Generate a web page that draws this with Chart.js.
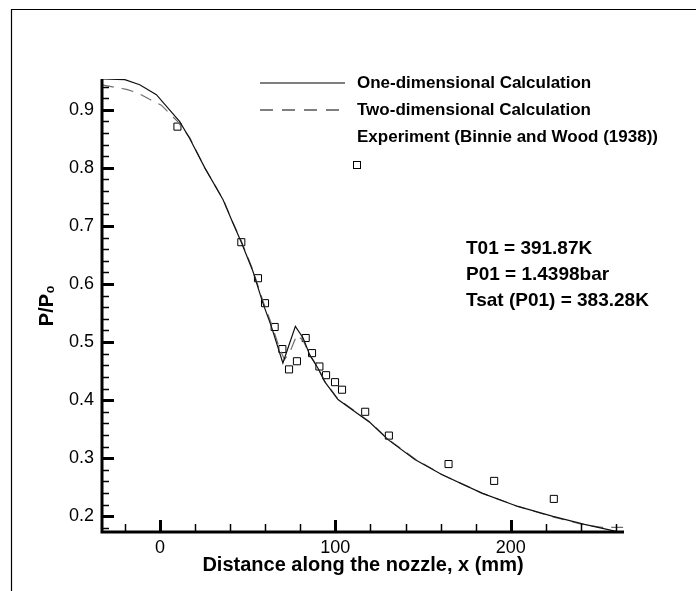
<!DOCTYPE html>
<html><head><meta charset="utf-8">
<script src="https://cdn.jsdelivr.net/npm/chart.js@4/dist/chart.umd.min.js"></script>
<style>html,body{margin:0;padding:0;background:#fff}</style>
</head><body>
<canvas id="c" width="696" height="591" style="display:block;width:696px;height:591px"></canvas>
<script>
// ---- data ----
const oneDimX = [-33, -20, -11.5, -2, 5.5, 11.2, 16.9, 25.6, 36, 41.6, 46.4, 53, 58.7, 63.5, 68.3, 70.1, 77.2, 81.6, 85.4, 90.1, 93.9, 101.5, 119.9, 130, 145.3, 160.6, 183.5, 204, 224, 242, 260];
const oneDimY = [0.953, 0.952, 0.943, 0.926, 0.900, 0.880, 0.851, 0.800, 0.745, 0.705, 0.672, 0.622, 0.567, 0.527, 0.481, 0.464, 0.527, 0.507, 0.478, 0.455, 0.432, 0.401, 0.361, 0.332, 0.298, 0.272, 0.240, 0.217, 0.200, 0.186, 0.174];
const twoDimX = [-33, -19, -12.5, -5.9, 0.8, 10, 17, 25.6, 36, 41.6, 46.4, 53, 58.7, 63.5, 68.3, 71, 74, 78, 81.6, 85.4, 90.1, 93.9, 101.5, 119.9, 130, 145.3, 160.6, 183.5, 204, 224, 242, 252, 264];
const twoDimY = [0.943, 0.935, 0.929, 0.918, 0.908, 0.880, 0.852, 0.800, 0.746, 0.706, 0.674, 0.624, 0.571, 0.532, 0.488, 0.470, 0.482, 0.512, 0.503, 0.478, 0.456, 0.433, 0.402, 0.362, 0.333, 0.299, 0.272, 0.240, 0.217, 0.199, 0.185, 0.181, 0.181];
const expX = [10, 46.4, 55.9, 59.9, 65.4, 69.8, 73.6, 78.1, 83.1, 86.7, 90.9, 94.7, 99.8, 103.8, 117, 130.5, 164.5, 190.5, 224.5];
const expY = [0.871, 0.672, 0.610, 0.567, 0.526, 0.488, 0.453, 0.467, 0.507, 0.481, 0.458, 0.443, 0.431, 0.418, 0.380, 0.339, 0.290, 0.261, 0.230];
const xTicks = [0, 100, 200];
const yTicks = [0.2, 0.3, 0.4, 0.5, 0.6, 0.7, 0.8, 0.9];
const seriesNames = ['One-dimensional Calculation', 'Two-dimensional Calculation', 'Experiment (Binnie and Wood (1938))'];
const noteLines = ['T01 = 391.87K', 'P01 = 1.4398bar', 'Tsat (P01) = 383.28K'];
const xTitle = 'Distance along the nozzle, x (mm)';
const yTitle = 'P/P\u2080';

const FONT = '"Liberation Sans", Arial, sans-serif';
const pts = (xs, ys) => xs.map((x, i) => ({x, y: ys[i]}));

const decorPlugin = {
  id: 'decor',
  beforeDraw(chart) {
    const ctx = chart.ctx;
    ctx.save();
    ctx.fillStyle = '#fff';
    ctx.fillRect(0, 0, chart.width, chart.height);
    ctx.strokeStyle = '#000';
    ctx.lineWidth = 1.2;
    ctx.beginPath();
    ctx.moveTo(11.5, 591); ctx.lineTo(11.5, 9.5); ctx.lineTo(696, 9.5);
    ctx.stroke();
    ctx.restore();
  },
  afterDraw(chart) {
    const ctx = chart.ctx, xs = chart.scales.x, ys = chart.scales.y;
    const a = chart.chartArea;
    ctx.save();
    ctx.strokeStyle = '#000';
    // axes
    ctx.lineWidth = 3;
    ctx.beginPath();
    ctx.moveTo(a.left, a.top); ctx.lineTo(a.left, a.bottom + 1.5);
    ctx.moveTo(a.left - 1.5, a.bottom); ctx.lineTo(a.right, a.bottom);
    ctx.stroke();
    // y ticks (inward)
    for (let v = 0.18; v <= ys.max + 1e-9; v += 0.02) {
      const vv = Math.round(v * 100) / 100;
      const major = Math.abs(vv * 10 - Math.round(vv * 10)) < 1e-6;
      const py = Math.round(ys.getPixelForValue(vv)) + 0.5;
      ctx.lineWidth = major ? 3 : 1.5;
      ctx.beginPath(); ctx.moveTo(a.left, py); ctx.lineTo(a.left + (major ? 12 : 7), py); ctx.stroke();
    }
    // x ticks (inward)
    for (let v = -20; v <= xs.max; v += 20) {
      const major = v % 100 === 0;
      const px = Math.round(xs.getPixelForValue(v)) + 0.5;
      ctx.lineWidth = major ? 3 : 1.5;
      ctx.beginPath(); ctx.moveTo(px, a.bottom); ctx.lineTo(px, a.bottom - (major ? 12 : 8)); ctx.stroke();
    }
    // legend
    ctx.font = 'bold 17px ' + FONT;
    ctx.fillStyle = '#000';
    ctx.textBaseline = 'middle';
    ctx.textAlign = 'left';
    const rows = [83, 110, 137];
    const tx = 357, l0 = 260, l1 = 345;
    ctx.lineWidth = 1.2;
    ctx.beginPath(); ctx.moveTo(l0, rows[0]); ctx.lineTo(l1, rows[0]); ctx.stroke();
    ctx.setLineDash([13, 9]);
    ctx.beginPath(); ctx.moveTo(l0, rows[1]); ctx.lineTo(l1, rows[1]); ctx.stroke();
    ctx.setLineDash([]);
    ctx.lineWidth = 1;
    ctx.fillStyle = '#fff';
    ctx.fillRect(353.5, 161.5, 7, 7);
    ctx.strokeRect(353.5, 161.5, 7, 7);
    ctx.fillStyle = '#000';
    seriesNames.forEach((t, i) => ctx.fillText(t, tx, rows[i]));
    // annotation
    ctx.font = 'bold 19px ' + FONT;
    [249, 275, 301].forEach((y, i) => ctx.fillText(noteLines[i], 466, y));
    ctx.restore();
  }
};

new Chart(document.getElementById('c'), {
  type: 'scatter',
  data: {
    datasets: [
      {label: seriesNames[0], data: pts(oneDimX, oneDimY), showLine: true, borderColor: '#111', borderWidth: 1.2, pointRadius: 0, fill: false, tension: 0},
      {label: seriesNames[1], data: pts(twoDimX, twoDimY), showLine: true, borderColor: '#6e6e6e', borderWidth: 1.2, borderDash: [12, 8], pointRadius: 0, fill: false, tension: 0},
      {label: seriesNames[2], data: pts(expX, expY), showLine: false, pointStyle: 'rect', pointRadius: 5, pointBorderWidth: 1, pointBorderColor: '#000', pointBackgroundColor: '#fff'}
    ]
  },
  options: {
    responsive: false,
    devicePixelRatio: 1,
    animation: false,
    layout: {padding: {left: 12, right: 72, top: 79, bottom: 10}},
    plugins: {legend: {display: false}, tooltip: {enabled: false}},
    scales: {
      x: {
        type: 'linear', min: -33, max: 264.5,
        afterBuildTicks: s => { s.ticks = xTicks.map(v => ({value: v})); },
        afterFit: s => { s.height = 49; },
        grid: {display: false, drawTicks: false},
        border: {display: false},
        ticks: {padding: 5, color: '#000', font: {family: FONT, size: 18}, maxRotation: 0, callback: v => String(v)},
        title: {display: true, text: xTitle, color: '#000', font: {family: FONT, size: 20, weight: 'bold'}, padding: {top: 0, bottom: 4}}
      },
      y: {
        type: 'linear', min: 0.173, max: 0.953,
        afterBuildTicks: s => { s.ticks = yTicks.map(v => ({value: v})); },
        afterFit: s => { s.width = 90; },
        grid: {display: false, drawTicks: false},
        border: {display: false},
        ticks: {padding: 8, color: '#000', font: {family: FONT, size: 18}, callback: v => v.toFixed(1)},
        title: {display: true, text: yTitle, color: '#000', font: {family: FONT, size: 20, weight: 'bold'}, padding: {top: 23, bottom: 0}}
      }
    }
  },
  plugins: [decorPlugin]
});
</script>
</body></html>
